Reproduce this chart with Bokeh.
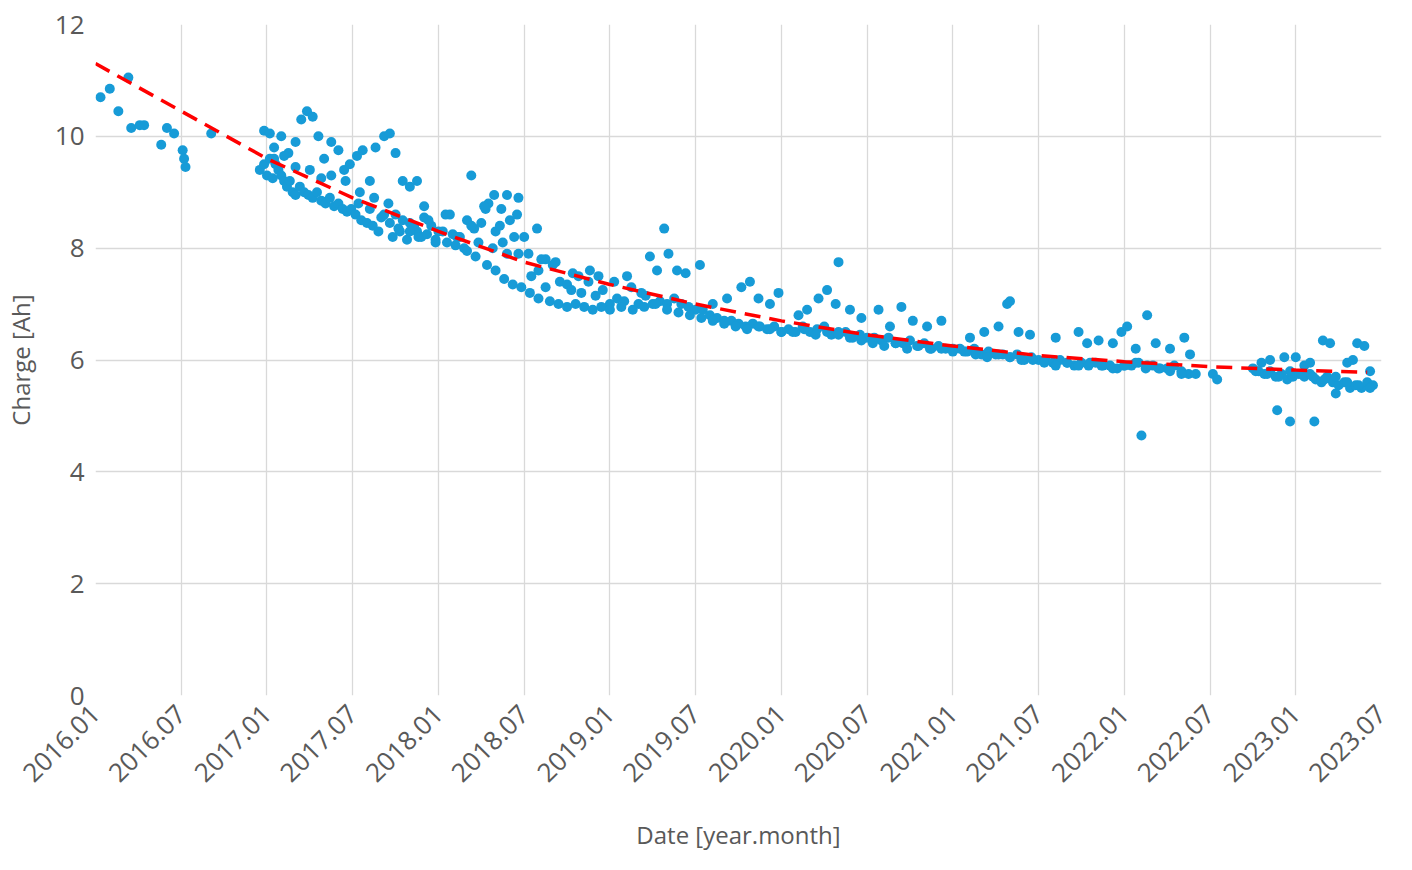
from bokeh.plotting import figure
from bokeh.models import FixedTicker, Range1d
from bokeh.embed import file_html
from bokeh.resources import INLINE

# months since 2016.01
month = [0.35,1.0,1.6,2.3,2.5,3.1,3.4,4.6,5.0,5.5,6.1,6.2,6.3,8.1,
 11.5,11.8,12.0,12.2,12.4,12.6,12.8,13.0,13.2,13.4,13.6,13.8,14.0,14.3,14.6,14.9,15.2,15.5,15.8,16.1,16.4,16.7,17.0,17.3,17.6,17.9,
 11.8,12.2,12.5,13.0,13.5,14.0,14.4,14.8,15.2,15.6,16.0,16.5,17.0,17.4,17.8,18.3,18.7,19.2,19.6,20.2,20.6,21.0,21.5,22.0,22.5,23.0,
 12.5,13.2,14.0,15.0,15.8,16.5,17.5,18.5,19.5,20.5,21.0,21.5,22.0,22.5,23.0,23.5,24.0,24.5,25.0,25.5,26.0,26.5,27.0,27.5,28.0,28.5,29.0,29.5,30.0,
 18.2,18.6,19.0,19.4,19.8,20.2,20.8,21.3,21.8,22.3,22.8,23.3,23.8,24.3,24.8,25.3,25.8,26.3,26.8,27.3,27.8,28.3,28.8,29.3,29.6,
 26.3,27.2,27.9,28.4,28.8,29.6,30.3,30.9,31.5,
 30.5,31.0,31.5,32.0,32.5,33.0,33.3,33.8,34.0,34.5,35.0,35.5,36.0,36.5,37.0,37.5,38.0,38.5,39.0,39.5,40.0,40.5,41.0,41.5,42.0,
 31.2,32.2,33.4,34.6,35.2,36.3,37.2,38.2,38.8,39.3,39.8,40.1,40.7,41.3,42.3,
 42.5,43.0,43.5,44.0,44.5,45.0,45.5,46.0,46.5,47.0,47.5,48.0,43.2,44.2,45.2,45.8,46.4,47.2,47.8,
 48.5,49.0,49.5,50.0,50.5,51.0,51.5,52.0,52.5,53.0,53.5,54.0,49.2,49.8,50.6,51.2,51.8,52.0,52.8,53.6,
 54.5,55.0,55.5,56.0,56.5,57.0,57.5,58.0,58.5,59.0,59.5,60.0,54.8,55.6,56.4,57.2,58.2,59.2,
 60.5,61.0,61.5,62.0,62.5,63.0,63.5,64.0,64.5,65.0,65.5,66.0,61.2,62.2,63.2,63.8,64.0,64.6,65.4,
 66.5,67.0,67.5,68.0,68.5,69.0,69.5,70.0,70.5,71.0,71.5,72.0,67.2,68.8,69.4,70.2,71.2,71.8,72.2,
 72.5,73.0,73.5,74.0,74.5,75.0,75.5,76.0,76.5,77.0,72.8,73.2,73.6,74.2,75.2,76.2,76.6,
 78.2,78.5,
 81.0,81.4,81.8,82.2,82.6,83.0,83.4,83.8,84.2,84.6,85.0,85.4,85.8,86.2,86.6,87.0,87.4,87.8,88.2,88.6,89.0,89.4,
 81.6,82.7,83.6,84.6,85.3,85.9,86.4,87.6,88.3,88.8,82.2,83.2,84.0,85.0,86.8,88.0,89.2,
 # denser band
 18.4,19.2,20.0,20.6,21.2,22.0,22.6,23.2,23.8,24.6,25.2,26.0,26.6,27.4,28.0,28.6,29.2,29.8,30.4,31.0,31.8,32.4,33.0,33.6,34.2,34.8,35.4,36.0,
 36.8,37.6,38.4,39.2,40.0,40.8,41.6,42.4,43.2,44.0,44.8,45.6,46.4,47.2,48.0,48.8,49.6,50.4,51.2,52.0,52.8,53.6,54.4,55.2,56.0,56.8,57.6,58.4,59.2,60.0,
 60.8,61.6,62.4,63.2,64.0,64.8,65.6,66.4,67.2,68.0,68.8,69.6,70.4,71.2,72.0,72.8,73.6,74.4,75.2,76.0,
 81.2,82.0,82.8,83.6,84.4,85.2,86.0,86.8,87.6,88.4,89.2]
charge = [10.7,10.85,10.45,11.05,10.15,10.2,10.2,9.85,10.15,10.05,9.75,9.6,9.45,10.05,
 9.4,9.5,9.3,9.6,9.25,9.5,9.4,9.3,9.2,9.1,9.2,9.0,8.95,9.1,9.0,8.95,8.9,9.0,8.85,8.8,8.9,8.75,8.8,8.7,8.65,8.7,
 10.1,10.05,9.8,10.0,9.7,9.9,10.3,10.45,10.35,10.0,9.6,9.9,9.75,9.4,9.5,9.65,9.75,9.2,9.8,10.0,10.05,9.7,9.2,9.1,9.2,8.75,
 9.6,9.65,9.45,9.4,9.25,9.3,9.2,9.0,8.9,8.8,8.6,8.5,8.45,8.3,8.55,8.4,8.3,8.6,8.25,8.2,8.5,8.35,8.45,8.8,8.3,8.1,8.5,8.6,8.2,
 8.6,8.5,8.45,8.4,8.3,8.6,8.2,8.3,8.15,8.4,8.2,8.5,8.1,8.3,8.6,8.2,8.0,8.4,8.1,8.7,8.0,8.4,7.9,8.2,7.9,
 9.3,8.75,8.95,8.7,8.95,8.9,7.9,8.35,7.8,
 7.5,7.6,7.3,7.7,7.4,7.35,7.25,7.5,7.2,7.4,7.15,7.25,7.0,7.1,7.05,7.3,7.0,7.15,7.0,7.05,7.0,7.1,7.0,6.95,6.9,
 7.8,7.75,7.55,7.6,7.5,7.4,7.5,7.2,7.85,7.6,8.35,7.9,7.6,7.55,7.7,
 6.9,6.8,6.75,6.7,6.7,6.65,6.6,6.65,6.6,6.55,6.6,6.5,7.0,7.1,7.3,7.4,7.1,7.0,7.2,
 6.55,6.5,6.6,6.5,6.55,6.6,6.45,6.5,6.5,6.4,6.45,6.4,6.8,6.9,7.1,7.25,7.0,7.75,6.9,6.75,
 6.4,6.35,6.4,6.3,6.3,6.35,6.25,6.3,6.2,6.25,6.2,6.2,6.9,6.6,6.95,6.7,6.6,6.7,
 6.2,6.15,6.2,6.1,6.15,6.1,6.1,6.05,6.1,6.0,6.05,6.0,6.4,6.5,6.6,7.0,7.05,6.5,6.45,
 6.0,5.95,6.0,5.95,5.9,5.95,5.9,5.95,5.9,5.9,5.85,5.9,6.4,6.5,6.3,6.35,6.3,6.5,6.6,
 5.9,5.95,5.85,5.9,5.85,5.85,5.9,5.8,5.75,5.75,6.2,4.65,6.8,6.3,6.2,6.4,6.1,
 5.75,5.65,
 5.85,5.8,5.75,5.8,5.7,5.75,5.65,5.7,5.75,5.7,5.75,5.65,5.6,5.7,5.6,5.55,5.6,5.5,5.55,5.5,5.6,5.55,
 5.95,5.1,4.9,5.9,4.9,6.35,6.3,5.95,6.3,6.25,6.0,6.05,6.05,5.95,5.4,6.0,5.8,
 8.8,8.7,8.55,8.45,8.35,8.3,8.2,8.25,8.15,8.1,8.05,7.95,7.85,7.7,7.6,7.45,7.35,7.3,7.2,7.1,7.05,7.0,6.95,7.0,6.95,6.9,6.95,6.9,
 6.95,6.9,6.95,7.0,6.9,6.85,6.8,6.75,6.7,6.65,6.6,6.55,6.6,6.55,6.5,6.5,6.55,6.45,6.5,6.45,6.4,6.35,6.3,6.25,6.3,6.2,6.25,6.2,6.2,6.15,
 6.15,6.1,6.05,6.1,6.05,6.0,6.0,5.95,5.9,5.95,5.9,5.95,5.9,5.85,5.9,5.95,5.9,5.85,5.8,5.75,
 5.8,5.75,5.7,5.8,5.75,5.7,5.65,5.7,5.6,5.55,5.5]

trend_month = [0,6,12,18,24,30,36,42,48,54,60,66,72,78,84,89]
trend_charge = [11.3,10.45,9.6,8.9,8.3,7.75,7.35,7.0,6.7,6.45,6.25,6.08,5.97,5.88,5.82,5.78]

tick_months = list(range(0, 91, 6))
tick_labels = ["2016.01","2016.07","2017.01","2017.07","2018.01","2018.07","2019.01","2019.07",
               "2020.01","2020.07","2021.01","2021.07","2022.01","2022.07","2023.01","2023.07"]

FONT = "Open Sans"
GREY = "#595959"

p = figure(width=1396, height=854, output_backend="svg", toolbar_location=None,
           x_range=Range1d(0, 90), y_range=Range1d(0, 12),
           min_border_left=40, min_border_right=15, min_border_top=24, min_border_bottom=60)
p.scatter(month, charge, size=10, color="#179bd7", line_color=None)
p.line(trend_month, trend_charge, color="#ff0000", line_width=3.5, line_dash="16 9")

p.xaxis.ticker = FixedTicker(ticks=tick_months)
p.xaxis.major_label_overrides = {m: l for m, l in zip(tick_months, tick_labels)}
p.xaxis.major_label_orientation = 0.785
p.yaxis.ticker = FixedTicker(ticks=[0,2,4,6,8,10,12])
for ax in (p.xaxis, p.yaxis):
    ax.major_label_text_font = FONT
    ax.major_label_text_color = GREY
    ax.major_label_text_font_size = "26px"
    ax.axis_label_text_font = FONT
    ax.axis_label_text_color = GREY
    ax.axis_label_text_font_size = "24px"
    ax.axis_label_text_font_style = "normal"
    ax.major_tick_line_color = None
    ax.minor_tick_line_color = None
    ax.axis_line_color = None
p.xaxis.axis_label_standoff = 25
p.yaxis.axis_label_standoff = 15
p.xaxis.major_label_standoff = 8
p.xaxis.axis_label = "Date [year.month]"
p.yaxis.axis_label = "Charge [Ah]"
p.grid.grid_line_color = "#d9d9d9"
p.grid.grid_line_width = 1.3
p.outline_line_color = None

open("out.html", "w").write(file_html(p, INLINE))
